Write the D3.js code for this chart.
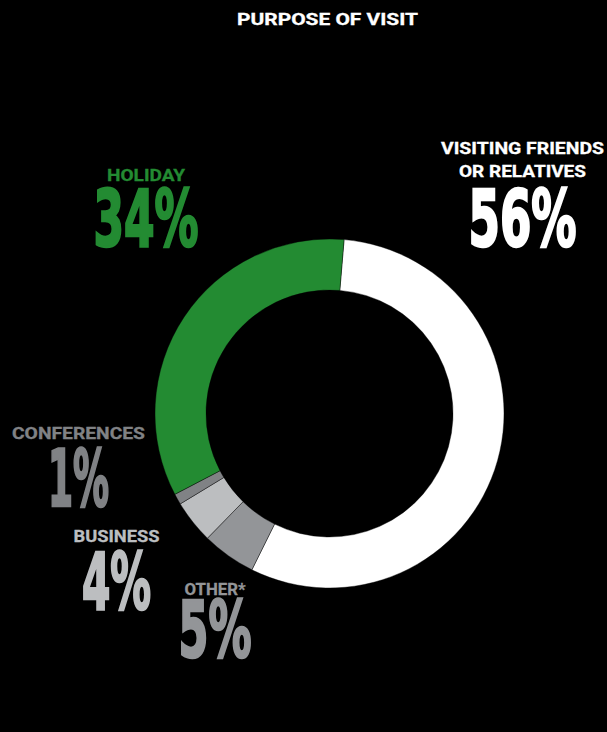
<!DOCTYPE html>
<html>
<head>
<meta charset="utf-8">
<script src="https://cdn.jsdelivr.net/npm/d3@7"></script>
<style>
  html, body { margin: 0; padding: 0; background: #000; }
  svg { display: block; }
</style>
</head>
<body>
<svg id="chart" width="607" height="732"></svg>
<script>
// Purpose of visit – shares in percent, in drawing order (clockwise)
const categories = ["Visiting friends or relatives", "Other*", "Business", "Conferences", "Holiday"];
const shares = [56, 5, 4, 1, 34];
const labelLines = [["VISITING FRIENDS", "OR RELATIVES"], ["OTHER*"], ["BUSINESS"], ["CONFERENCES"], ["HOLIDAY"]];
const sliceColors = ["#ffffff", "#939598", "#bcbec0", "#808285", "#238b32"];
const labelColors = ["#ffffff", "#939598", "#bcbec0", "#808285", "#238b32"];
const title = "PURPOSE OF VISIT";

// Label layout: centre x, baseline of first caption line, caption widths, value baseline and width
const labelLayout = [
  { x: 522.5, y: 154, widths: [163, 127], vy: 246, vw: 108 },
  { x: 215,   y: 595, widths: [61],       vy: 657, vw: 73 },
  { x: 116.5, y: 542, widths: [86],       vy: 609, vw: 69 },
  { x: 78.5,  y: 439, widths: [133],      vy: 506, vw: 61 },
  { x: 146,   y: 181, widths: [78],       vy: 246, vw: 105 }
];

const svg = d3.select("#chart");
const cx = 329.5, cy = 413.5, rOuter = 174.5, rInner = 123.5;
const startOffset = 4.8 * Math.PI / 180;

const captionFont = "Roboto, 'Liberation Sans', Arial, sans-serif";
const valueFont = "'Liberation Sans Narrow', 'DejaVu Sans Condensed', 'Arial Narrow', sans-serif";

svg.append("text")
  .attr("x", 327.5).attr("y", 25)
  .attr("text-anchor", "middle")
  .attr("fill", "#fff")
  .attr("stroke", "#fff")
  .attr("stroke-width", 0.3)
  .attr("font-family", captionFont)
  .attr("font-weight", 700)
  .attr("font-size", 16.5)
  .attr("textLength", 181)
  .attr("lengthAdjust", "spacingAndGlyphs")
  .text(title);

const pie = d3.pie().sort(null).value(d => d)
  .startAngle(startOffset).endAngle(startOffset + 2 * Math.PI);
const arc = d3.arc().innerRadius(rInner).outerRadius(rOuter);

svg.append("g")
  .attr("transform", `translate(${cx},${cy})`)
  .selectAll("path")
  .data(pie(shares))
  .join("path")
  .attr("d", arc)
  .attr("fill", (d, i) => sliceColors[i])
  .attr("stroke", "#000")
  .attr("stroke-width", 0.4);

const labels = svg.append("g")
  .selectAll("g")
  .data(categories)
  .join("g");

labels.each(function (name, i) {
  const g = d3.select(this);
  const L = labelLayout[i];
  labelLines[i].forEach((line, j) => {
    g.append("text")
      .attr("x", L.x).attr("y", L.y + j * 23)
      .attr("text-anchor", "middle")
      .attr("fill", labelColors[i])
      .attr("stroke", labelColors[i])
      .attr("stroke-width", 0.3)
      .attr("font-family", captionFont)
      .attr("font-weight", 700)
      .attr("font-size", 16.5)
      .attr("textLength", L.widths[j])
      .attr("lengthAdjust", "spacingAndGlyphs")
      .text(line);
  });
  // big condensed value, thickened with a same-colour outline
  g.append("text")
    .attr("x", L.x).attr("y", L.vy)
    .attr("text-anchor", "middle")
    .attr("fill", labelColors[i])
    .attr("stroke", labelColors[i])
    .attr("stroke-width", 2.6)
    .attr("stroke-linejoin", "miter")
    .attr("font-family", valueFont)
    .attr("font-weight", 700)
    .attr("font-size", 79)
    .attr("textLength", L.vw)
    .attr("lengthAdjust", "spacingAndGlyphs")
    .text(`${shares[i]}%`);
});
</script>
</body>
</html>
